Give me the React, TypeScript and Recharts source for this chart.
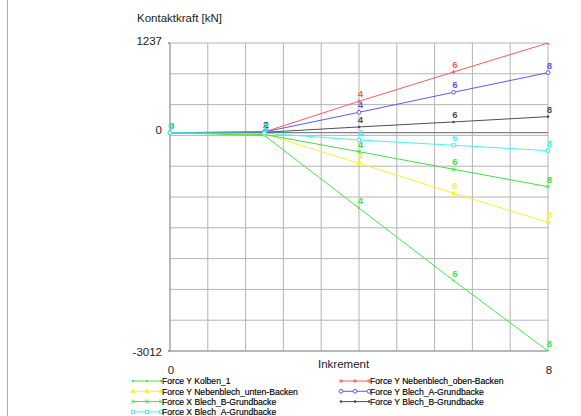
import React from "react";
import { LineChart, Line, XAxis, YAxis, CartesianGrid, ReferenceLine } from "recharts";

const increments = [0, 2, 4, 6, 8];

const kolben1 = [0, -40, -1040, -2040, -3012];
const nebenblechOben = [0, 10, 433, 837, 1237];
const nebenblechUnten = [0, -20, -422, -836, -1236];
const blechAY = [0, 10, 281, 557, 828];
const blechBX = [0, -25, -262, -505, -745];
const blechBY = [0, 5, 79, 148, 221];
const blechAX = [0, -8, -101, -174, -248];

const yTickLabels = [1237, 0, -3012];
const xTickLabels = [0, 8];
const gridDivisions = 10;

const yMin = -3012;
const yMax = 1237;
const xMin = 0;
const xMax = 8;

type MarkerShape = "dot" | "plus" | "filledSquare" | "openCircle" | "cross" | "smallDot" | "openSquare";

const series: { key: string; name: string; values: number[]; color: string; marker: MarkerShape }[] = [
  { key: "kolben1", name: "Force Y Kolben_1", values: kolben1, color: "#45e445", marker: "dot" },
  { key: "obenBacken", name: "Force Y Nebenblech_oben-Backen", values: nebenblechOben, color: "#ff5a5a", marker: "plus" },
  { key: "untenBacken", name: "Force Y Nebenblech_unten-Backen", values: nebenblechUnten, color: "#f4f430", marker: "filledSquare" },
  { key: "blechAY", name: "Force Y Blech_A-Grundbacke", values: blechAY, color: "#5a5aff", marker: "openCircle" },
  { key: "blechBX", name: "Force X Blech_B-Grundbacke", values: blechBX, color: "#45dc45", marker: "cross" },
  { key: "blechBY", name: "Force Y Blech_B-Grundbacke", values: blechBY, color: "#505050", marker: "smallDot" },
  { key: "blechAX", name: "Force X Blech_A-Grundbacke", values: blechAX, color: "#45f2f2", marker: "openSquare" },
];

const data = increments.map((x, i) => {
  const row: Record<string, number> = { x };
  series.forEach((s) => {
    row[s.key] = s.values[i];
  });
  return row;
});

const yGrid = Array.from({ length: gridDivisions + 1 }, (_, i) => yMin + ((yMax - yMin) * i) / gridDivisions);
const yTicks = [...yGrid, 0].sort((a, b) => a - b);
const xGrid = Array.from({ length: gridDivisions + 1 }, (_, i) => xMin + ((xMax - xMin) * i) / gridDivisions);

const font = "'Liberation Sans', Arial, sans-serif";

function Marker({ shape, x, y, color }: { shape: MarkerShape; x: number; y: number; color: string }) {
  switch (shape) {
    case "plus":
      return <path d={`M${x - 2},${y}H${x + 2}M${x},${y - 2}V${y + 2}`} stroke={color} strokeWidth={1} />;
    case "cross":
      return (
        <path d={`M${x - 1.8},${y - 1.8}L${x + 1.8},${y + 1.8}M${x - 1.8},${y + 1.8}L${x + 1.8},${y - 1.8}`} stroke={color} strokeWidth={1} />
      );
    case "filledSquare":
      return <rect x={x - 1.8} y={y - 1.8} width={3.6} height={3.6} fill={color} />;
    case "openSquare":
      return <rect x={x - 1.6} y={y - 1.6} width={3.2} height={3.2} fill="#fff" stroke={color} strokeWidth={1} />;
    case "openCircle":
      return <circle cx={x} cy={y} r={1.9} fill="#fff" stroke={color} strokeWidth={1} />;
    case "smallDot":
      return <circle cx={x} cy={y} r={1.3} fill={color} />;
    default:
      return <rect x={x - 1} y={y - 1} width={2} height={2} fill={color} />;
  }
}

const renderDot = (s: (typeof series)[number]) => (props: any) => {
  const { cx, cy, index, payload } = props;
  return (
    <g key={`${s.key}-${index}`}>
      <Marker shape={s.marker} x={cx} y={cy} color={s.color} />
      <text x={cx + 1.5} y={cy - 4} textAnchor="middle" fontSize={9.5} fontWeight="bold" fontFamily={font} fill={s.color}>
        {payload.x}
      </text>
    </g>
  );
};

const YTick = (props: any) => {
  const { x, y, payload } = props;
  const label = yTickLabels.find((v) => Math.abs(v - payload.value) < 0.5);
  if (label === undefined) return null;
  const shift = label === yMin ? 5 : 1.5;
  return (
    <g>
      {label !== 0 && <line x1={x + 6} x2={x + 8} y1={y} y2={y} stroke="#555" />}
      <text x={x} y={y + shift} textAnchor="end" fontSize={11.5} fontFamily={font} fill="#222">
        {label}
      </text>
    </g>
  );
};

const XTick = (props: any) => {
  const { x, y, payload } = props;
  const label = xTickLabels.find((v) => Math.abs(v - payload.value) < 0.01);
  if (label === undefined) return null;
  return (
    <text x={x + 1} y={y + 15} textAnchor="middle" fontSize={11.5} fontFamily={font} fill="#222">
      {label}
    </text>
  );
};

function LegendBlock() {
  const cols = [133, 341];
  const lineLen = 28;
  return (
    <g>
      {series.map((s, i) => {
        const x0 = cols[i % 2];
        const y = 381 + Math.floor(i / 2) * 10.3;
        return (
          <g key={s.key}>
            <line x1={x0} x2={x0 + lineLen} y1={y} y2={y} stroke={s.color} strokeWidth={1} />
            {[0, 0.5, 1].map((f) => (
              <Marker key={f} shape={s.marker} x={x0 + f * lineLen} y={y} color={s.color} />
            ))}
            <text
              x={x0 + lineLen + 1}
              y={y + 3.2}
              fontSize={8.6}
              fontFamily={font}
              fill="#000"
              stroke="#000"
              strokeWidth={0.15}
            >
              {s.name}
            </text>
          </g>
        );
      })}
    </g>
  );
}

export default function App() {
  return (
    <div style={{ position: "absolute", left: 0, top: 0, width: 581, height: 416, background: "#fff" }}>
      <LineChart width={581} height={416} data={data} margin={{ top: 43, right: 33, left: 0, bottom: 0 }}>
        <CartesianGrid stroke="#b4b4b4" strokeWidth={1} />
        <XAxis
          dataKey="x"
          type="number"
          domain={[xMin, xMax]}
          ticks={xGrid}
          interval={0}
          tick={<XTick />}
          tickLine={false}
          axisLine={{ stroke: "#999" }}
          height={65}
        />
        <YAxis
          type="number"
          domain={[yMin, yMax]}
          ticks={yTicks}
          interval={0}
          tick={<YTick />}
          tickLine={false}
          axisLine={{ stroke: "#999" }}
          width={170}
          allowDataOverflow
        />
        <ReferenceLine y={0} stroke="#777" strokeWidth={1} />
        {series.map((s) => (
          <Line
            key={s.key}
            dataKey={s.key}
            name={s.name}
            type="linear"
            stroke={s.color}
            strokeWidth={1}
            dot={renderDot(s)}
            activeDot={false}
            isAnimationActive={false}
          />
        ))}
      </LineChart>
      <svg width={581} height={416} style={{ position: "absolute", left: 0, top: 0, pointerEvents: "none" }}>
        <line x1={7.5} x2={7.5} y1={0} y2={416} stroke="#ef8f8f" strokeWidth={1} />
        <text x={137} y={22.3} fontSize={11.5} fontFamily={font} fill="#222">
          Kontaktkraft [kN]
        </text>
        <text x={318} y={368} fontSize={11.5} fontFamily={font} fill="#222">
          Inkrement
        </text>
        <LegendBlock />
      </svg>
    </div>
  );
}
